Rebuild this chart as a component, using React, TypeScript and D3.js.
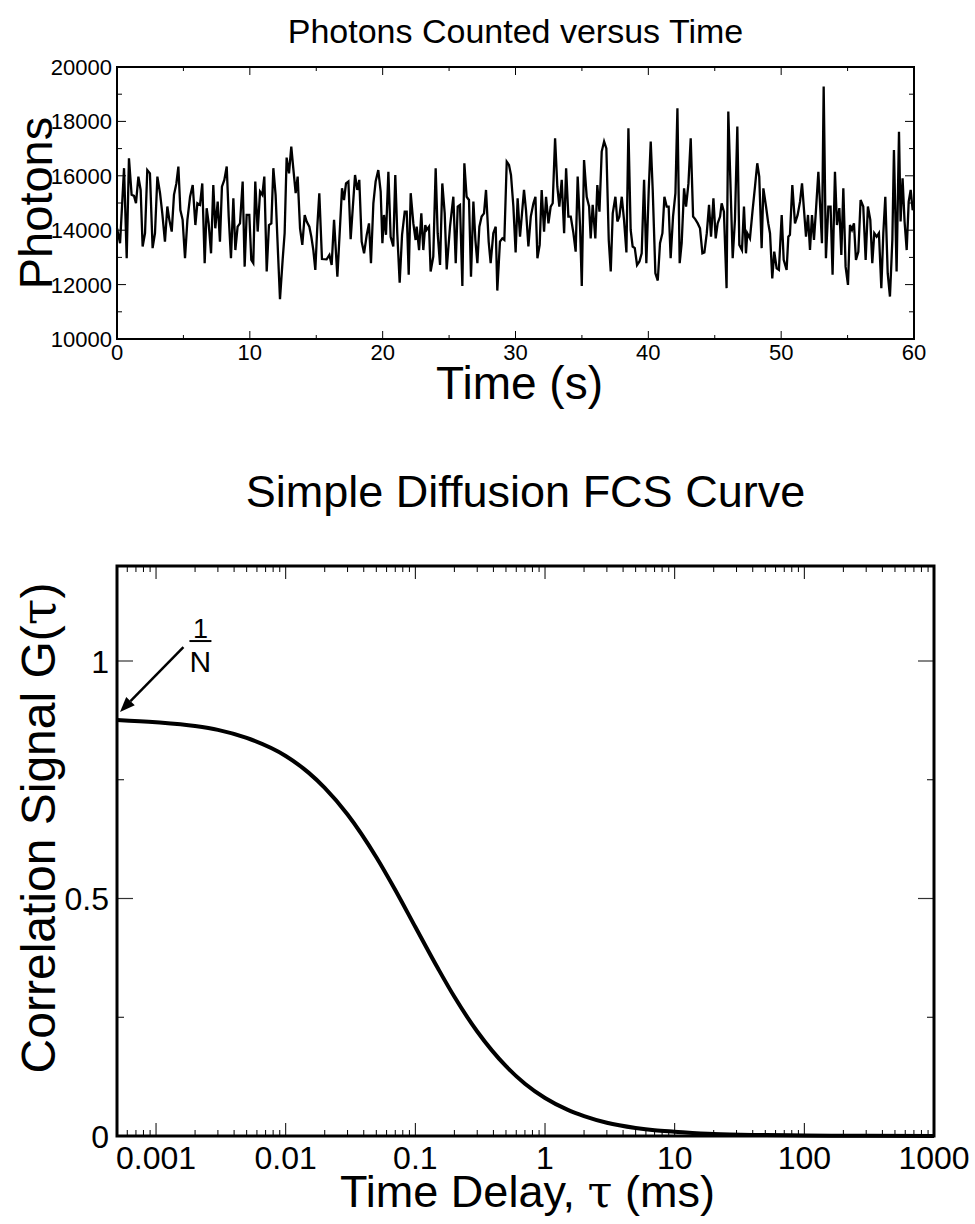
import React from 'react';
import * as d3 from 'd3';

// photon trace (time in s, photons per bin)
const photonTimes = [
  0.00, 0.23, 0.53, 0.73, 0.90, 1.10, 1.28, 1.43, 1.61, 1.78, 1.93, 2.11, 2.28, 2.48, 2.68, 2.86, 3.04, 3.24, 3.41, 3.61,
  3.79, 3.94, 4.12, 4.29, 4.47, 4.62, 4.77, 4.94, 5.12, 5.30, 5.50, 5.70, 5.90, 6.05, 6.25, 6.42, 6.60, 6.75, 6.90, 7.08,
  7.25, 7.40, 7.58, 7.75, 7.90, 8.08, 8.26, 8.41, 8.58, 8.76, 8.91, 9.08, 9.26, 9.46, 9.61, 9.76, 9.96, 10.11, 10.26, 10.41,
  10.59, 10.77, 10.94, 11.09, 11.27, 11.44, 11.62, 11.77, 11.94, 12.10, 12.27, 12.47, 12.62, 12.77, 12.95, 13.12, 13.27, 13.45, 13.60, 13.78,
  13.95, 14.13, 14.28, 14.48, 14.63, 14.78, 14.93, 15.08, 15.23,
  15.43, 15.78, 15.99, 16.16, 16.34, 16.59, 16.94, 17.09, 17.24, 17.42, 17.59, 17.92, 18.09, 18.24, 18.42, 18.60, 18.80, 18.97, 19.12, 19.30,
  19.47, 19.67, 19.85, 19.98, 20.10, 20.25, 20.43, 20.60, 20.80, 20.95, 21.10, 21.28, 21.46, 21.66, 21.81, 21.96, 22.11, 22.31, 22.48, 22.56,
  22.74, 22.91, 23.06, 23.21, 23.31, 23.49, 23.61, 23.81, 23.99, 24.14, 24.32, 24.49, 24.67, 24.82, 25.07, 25.32, 25.50, 25.65, 25.82, 26.00,
  26.15, 26.32, 26.50, 26.65, 26.83, 26.98, 27.13, 27.28, 27.45, 27.63, 27.78, 27.98, 28.13, 28.33, 28.51, 28.63, 28.83, 29.01, 29.16, 29.34,
  29.51, 29.66, 29.84, 30.01, 30.16, 30.34,
  30.64, 30.79, 30.97, 31.15, 31.35, 31.50, 31.65, 31.82, 31.97, 32.15, 32.30, 32.48, 32.65, 32.80, 32.98, 33.15, 33.30, 33.48, 33.66, 33.81,
  33.98, 34.16, 34.36, 34.53, 34.68, 34.86, 34.99, 35.16, 35.36, 35.54, 35.66, 35.81, 36.01, 36.16, 36.32, 36.49, 36.67, 36.84, 37.02, 37.17,
  37.32, 37.52, 37.67, 37.82, 38.00, 38.17, 38.35, 38.50, 38.67, 38.82, 38.98, 39.15, 39.33, 39.50, 39.68, 39.85, 40.03, 40.18, 40.33, 40.53,
  40.71, 40.88, 41.06, 41.21, 41.38, 41.53, 41.68, 41.86, 42.04, 42.19, 42.36, 42.51, 42.69, 42.84, 43.02, 43.19, 43.37, 43.54, 43.72, 43.89,
  44.07, 44.22, 44.40, 44.57, 44.72, 44.90, 45.07, 45.22, 45.40,
  45.52, 45.69, 45.89, 46.02, 46.35, 46.52, 46.70, 46.85, 47.05, 47.20, 47.35, 47.45, 47.65, 47.85, 48.03, 48.20, 48.35, 48.53, 48.66, 48.86,
  49.03, 49.16, 49.33, 49.48, 49.66, 49.83, 50.04, 50.19, 50.41, 50.54, 50.66, 50.84, 51.04, 51.24, 51.42, 51.57, 51.72, 51.87, 52.02, 52.17,
  52.32, 52.47, 52.62, 52.80, 52.95, 53.07, 53.20, 53.37, 53.55, 53.72, 53.87, 54.05, 54.20, 54.38, 54.53, 54.68, 54.85, 55.03, 55.18, 55.33,
  55.48, 55.63, 55.81, 55.98, 56.18, 56.36, 56.53, 56.71, 56.86, 57.01, 57.19, 57.36, 57.54, 57.69, 57.84, 58.02, 58.19, 58.37, 58.49, 58.69,
  58.87, 58.99, 59.14, 59.29, 59.45, 59.60, 59.75, 59.90, 60.00,
];

const photonCounts = [
  14070, 13520, 16280, 12970, 16640, 15300, 15260, 14990, 15970, 15480, 13400, 13890, 16210, 16090, 13340, 13890, 15970, 15360, 14620, 13580,
  14870, 14380, 13950, 15300, 15720, 16340, 14740, 14380, 12970, 14380, 15230, 15660, 14190, 14990, 14930, 15720, 12790, 14810, 14250, 13150,
  15660, 14070, 15050, 13580, 15600, 15850, 16340, 14500, 12970, 15170, 13270, 14130, 14250, 15790, 12660, 14560, 14560, 12910, 12790, 15790,
  13950, 15420, 15300, 15970, 12480, 14190, 14250, 16280, 15300, 13400, 11460, 12910, 13890, 16670, 16090, 17070, 16280, 15360, 15970, 14070,
  13460, 14560, 14320, 14130, 13760, 13270, 12540, 14130, 15360,
  12940, 12930, 13090, 12720, 14380, 12290, 15540, 15110, 15720, 15790, 13670, 16030, 15480, 15850, 13580, 13150, 13830, 14250, 12790, 14990,
  15790, 16210, 15420, 13520, 14560, 13830, 16150, 13760, 13400, 16030, 13890, 12070, 13830, 14680, 14680, 12360, 15360, 14250, 13640, 14130,
  13270, 14620, 13270, 14190, 14010, 14130, 12480, 13030, 16280, 13890, 12720, 15720, 14620, 12560, 14130, 15230, 12790, 14870, 14930, 11950,
  16460, 15230, 15110, 12290, 15050, 13640, 12790, 14130, 14500, 14620, 15480, 13580, 12790, 13890, 14130, 11780, 13580, 13700, 13640, 16520,
  16400, 16030, 14870, 13180, 15170, 13760,
  15480, 14740, 13400, 14500, 14990, 15230, 12970, 13460, 15480, 13950, 15230, 14250, 14870, 14990, 17380, 15600, 14870, 15850, 13890, 16280,
  14500, 14500, 13890, 13210, 15970, 14130, 11950, 16580, 15230, 14870, 13700, 14930, 13700, 15660, 14680, 16890, 17260, 17010, 13640, 12480,
  14620, 15230, 14320, 14500, 15230, 14380, 13180, 17750, 14010, 13400, 13340, 12720, 12850, 13150, 15850, 12790, 15480, 17260, 15480, 12420,
  12150, 13520, 13890, 15230, 14870, 14870, 12970, 14500, 15360, 18480, 12790, 13520, 15540, 14870, 15720, 17380, 14500, 14400, 14250, 14070,
  13150, 13180, 13890, 14930, 13760, 15170, 13700, 14250, 14500,
  14990, 14680, 11870, 18360, 12970, 14380, 17810, 13460, 13270, 14870, 13150, 13890, 13700, 14740, 15600, 16460, 15970, 13340, 15540, 14870,
  14250, 13890, 12230, 13210, 12600, 12540, 14560, 12910, 12540, 13760, 13830, 15660, 14250, 14560, 15050, 15720, 14740, 13760, 14560, 13270,
  14560, 13640, 14740, 16150, 14740, 13520, 19280, 12970, 14870, 14870, 12360, 16150, 14190, 14810, 13090, 15540, 12660, 11990, 14190, 14010,
  14250, 12910, 13210, 15110, 14870, 12910, 14870, 14380, 12790, 13890, 13760, 13890, 11870, 13890, 15230, 12420, 11560, 13640, 16950, 12480,
  17620, 14320, 15910, 14320, 13270, 15050, 15480, 14740, 14870,
];

const photonXTicks = [0, 10, 20, 30, 40, 50, 60];
const photonXMinor = [5, 15, 25, 35, 45, 55];
const photonYTicks = [10000, 12000, 14000, 16000, 18000, 20000];
const photonYMinor = [11000, 13000, 15000, 17000, 19000];

// FCS autocorrelation (delay in ms, G)
const fcsDelays = [0.0005, 0.001, 0.002, 0.003, 0.005, 0.01, 0.015, 0.02, 0.03, 0.05, 0.07, 0.1, 0.15, 0.2, 0.3, 0.5, 0.7, 1, 1.5, 2, 3, 5, 7, 10, 20, 50, 100, 300, 1000];
const fcsSignal = [0.876, 0.871, 0.863, 0.855, 0.838, 0.8, 0.765, 0.733, 0.677, 0.587, 0.518, 0.44, 0.352, 0.293, 0.22, 0.147, 0.11, 0.08, 0.055, 0.042, 0.028, 0.017, 0.012, 0.009, 0.004, 0.002, 0.001, 0.0003, 0.0001];
const fcsXTicks = [0.001, 0.01, 0.1, 1, 10, 100, 1000];
const fcsXLabels = ['0.001', '0.01', '0.1', '1', '10', '100', '1000'];
const fcsYTicks = [0, 0.5, 1];
const fcsYLabels = ['0', '0.5', '1'];
const fcsYMinor = [0.25, 0.75];

const font = '"Liberation Sans", Arial, Helvetica, sans-serif';
const tauFont = '"DejaVu Serif", "Liberation Serif", serif';

const PhotonChart = () => {
  const left = 117, right = 914, top = 67, bottom = 339;
  const x = d3.scaleLinear().domain([0, 60]).range([left, right]);
  const y = d3.scaleLinear().domain([10000, 20000]).range([bottom, top]);
  const line = d3.line<number>()
    .x((_, i) => x(photonTimes[i]))
    .y(d => y(d));

  return (
    <g fontFamily={font}>
      <text x={(left + right) / 2} y={43} textAnchor="middle" fontSize={34}>Photons Counted versus Time</text>
      <path d={line(photonCounts) || ''} fill="none" stroke="#000" strokeWidth={2.3} />
      {photonXTicks.map(t => (
        <g key={'xt' + t}>
          <line x1={x(t)} x2={x(t)} y1={bottom} y2={bottom - 8} stroke="#000" strokeWidth={1} />
          <line x1={x(t)} x2={x(t)} y1={top} y2={top + 8} stroke="#000" strokeWidth={1} />
          <text x={x(t)} y={360} textAnchor="middle" fontSize={22}>{t}</text>
        </g>
      ))}
      {photonXMinor.map(t => (
        <g key={'xm' + t}>
          <line x1={x(t)} x2={x(t)} y1={bottom} y2={bottom - 4} stroke="#000" strokeWidth={1} />
          <line x1={x(t)} x2={x(t)} y1={top} y2={top + 4} stroke="#000" strokeWidth={1} />
        </g>
      ))}
      {photonYTicks.map(v => (
        <g key={'yt' + v}>
          <line x1={left} x2={left + 9} y1={y(v)} y2={y(v)} stroke="#000" strokeWidth={1} />
          <line x1={right} x2={right - 9} y1={y(v)} y2={y(v)} stroke="#000" strokeWidth={1} />
          <text x={112} y={y(v)} dy="0.36em" textAnchor="end" fontSize={22}>{v}</text>
        </g>
      ))}
      {photonYMinor.map(v => (
        <g key={'ym' + v}>
          <line x1={left} x2={left + 5} y1={y(v)} y2={y(v)} stroke="#000" strokeWidth={1} />
          <line x1={right} x2={right - 5} y1={y(v)} y2={y(v)} stroke="#000" strokeWidth={1} />
        </g>
      ))}
      <rect x={left} y={top} width={right - left} height={bottom - top} fill="none" stroke="#000" strokeWidth={2} />
      <text x={(left + right) / 2 + 4} y={399} textAnchor="middle" fontSize={46}>Time (s)</text>
      <text transform={`translate(52,${(top + bottom) / 2}) rotate(-90)`} textAnchor="middle" fontSize={47}>Photons</text>
    </g>
  );
};

const FcsChart = () => {
  const left = 117, right = 934, top = 566, bottom = 1136;
  const x = d3.scaleLog().domain([0.0005, 1000]).range([left, right]);
  const y = d3.scaleLinear().domain([0, 1.2]).range([bottom, top]);
  const minor = x.ticks().filter(t => !fcsXTicks.some(m => Math.abs(m - t) / m < 1e-6));
  const line = d3.line<number>()
    .x((_, i) => x(fcsDelays[i]))
    .y(d => y(d))
    .curve(d3.curveMonotoneX);

  // 1/N annotation anchored in data space
  const ax = x(0.0022), ay = y(1.042);
  const tipX = x(fcsDelays[0]) + 3, tipY = y(fcsSignal[0]) - 8;
  const sx = ax - 17, sy = ay + 6;
  const ang = Math.atan2(tipY - sy, tipX - sx);
  const headLen = 15, headW = 6;
  const bx = tipX - headLen * Math.cos(ang), by = tipY - headLen * Math.sin(ang);
  const head = [
    [tipX, tipY],
    [bx + headW * Math.sin(ang), by - headW * Math.cos(ang)],
    [bx - headW * Math.sin(ang), by + headW * Math.cos(ang)],
  ].map(p => p.join(',')).join(' ');

  return (
    <g fontFamily={font}>
      <text x={(left + right) / 2} y={507} textAnchor="middle" fontSize={45}>Simple Diffusion FCS Curve</text>
      {fcsXTicks.map((t, i) => (
        <g key={'xt' + t}>
          <line x1={x(t)} x2={x(t)} y1={bottom} y2={bottom - 13} stroke="#000" strokeWidth={1} />
          <line x1={x(t)} x2={x(t)} y1={top} y2={top + 13} stroke="#000" strokeWidth={1} />
          <text x={x(t)} y={1169} textAnchor="middle" fontSize={32}>{fcsXLabels[i]}</text>
        </g>
      ))}
      {minor.map(t => (
        <g key={'xm' + t}>
          <line x1={x(t)} x2={x(t)} y1={bottom} y2={bottom - 6} stroke="#000" strokeWidth={1} />
          <line x1={x(t)} x2={x(t)} y1={top} y2={top + 6} stroke="#000" strokeWidth={1} />
        </g>
      ))}
      {fcsYTicks.map((v, i) => (
        <g key={'yt' + v}>
          <line x1={left} x2={left + 16} y1={y(v)} y2={y(v)} stroke="#333" strokeWidth={1.2} />
          <line x1={right} x2={right - 16} y1={y(v)} y2={y(v)} stroke="#333" strokeWidth={1.2} />
          <text x={109} y={y(v)} dy="0.36em" textAnchor="end" fontSize={32}>{fcsYLabels[i]}</text>
        </g>
      ))}
      {fcsYMinor.map(v => (
        <g key={'ym' + v}>
          <line x1={left} x2={left + 7} y1={y(v)} y2={y(v)} stroke="#000" strokeWidth={1} />
          <line x1={right} x2={right - 7} y1={y(v)} y2={y(v)} stroke="#000" strokeWidth={1} />
        </g>
      ))}
      <path d={line(fcsSignal) || ''} fill="none" stroke="#000" strokeWidth={4} />
      <rect x={left} y={top} width={right - left} height={bottom - top} fill="none" stroke="#000" strokeWidth={3} />
      <line x1={sx} y1={sy} x2={bx} y2={by} stroke="#000" strokeWidth={2.5} />
      <polygon points={head} fill="#000" />
      <text x={ax} y={ay - 3} textAnchor="middle" fontSize={27}>1</text>
      <line x1={ax - 11} x2={ax + 11} y1={ay} y2={ay} stroke="#000" strokeWidth={2} />
      <text x={ax} y={ay + 31} textAnchor="middle" fontSize={30}>N</text>
      <text x={(left + right) / 2 + 2} y={1207} textAnchor="middle" fontSize={45}>
        Time Delay, <tspan fontFamily={tauFont}>τ</tspan> (ms)
      </text>
      <text transform={`translate(55,828) rotate(-90)`} textAnchor="middle" fontSize={48}>
        Correlation Signal G(<tspan fontFamily={tauFont}>τ</tspan>)
      </text>
    </g>
  );
};

export default function App() {
  return (
    <svg width={975} height={1224} style={{ position: 'absolute', left: 0, top: 0, background: '#fff' }}>
      <rect width={975} height={1224} fill="#fff" />
      <PhotonChart />
      <FcsChart />
    </svg>
  );
}
